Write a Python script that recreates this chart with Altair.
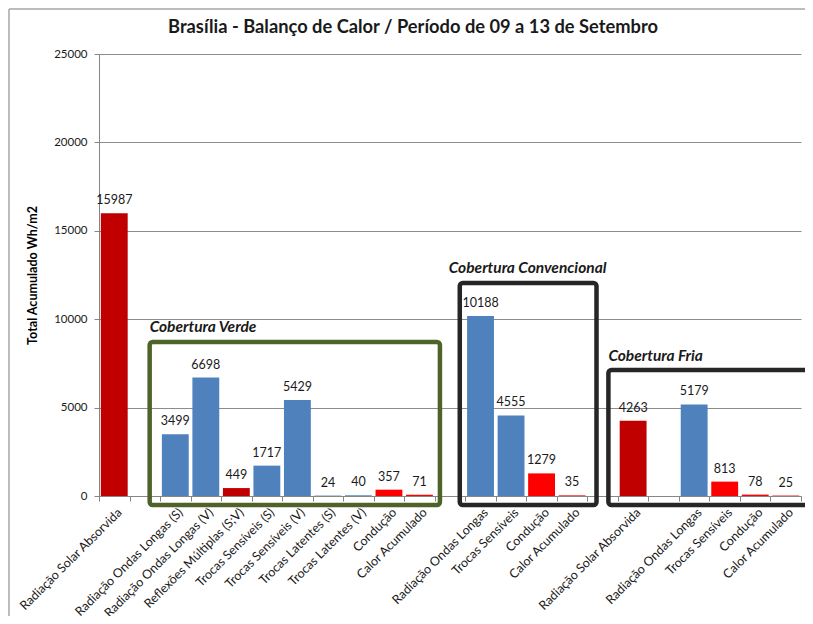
import altair as alt
import pandas as pd

# ---- data ----
slot_labels = ["Radiação Solar Absorvida", "", "Radiação Ondas Longas (S)", "Radiação Ondas Longas (V)",
               "Reflexões Múltiplas (S;V)", "Trocas Sensíveis (S)", "Trocas Sensíveis (V)",
               "Trocas Latentes (S)", "Trocas Latentes (V)", "Condução", "Calor Acumulado", "",
               "Radiação Ondas Longas", "Trocas Sensíveis", "Condução", "Calor Acumulado", "",
               "Radiação Solar Absorvida", "", "Radiação Ondas Longas", "Trocas Sensíveis",
               "Condução", "Calor Acumulado"]
values = [15987, None, 3499, 6698, 449, 1717, 5429, 24, 40, 357, 71, None,
          10188, 4555, 1279, 35, None, 4263, None, 5179, 813, 78, 25]
kinds = ["solar", None, "long", "long", "solar", "long", "long", "long", "long", "hot", "hot", None,
         "long", "long", "hot", "hot", None, "solar", None, "long", "hot", "hot", "hot"]
kind_colors = {"solar": "#C00000", "long": "#4F81BD", "hot": "#FF0000"}

box_names = ["Cobertura Verde", "Cobertura Convencional", "Cobertura Fria"]
box_x0 = [1.66, 11.82, 16.69]
box_x1 = [11.17, 16.30, 23.6]
box_top = [8710, 12050, 7130]
box_bottom = [-510, -510, -510]
box_colors = ["#4F6228", "#262626", "#262626"]
box_label_x = [1.66, 11.46, 16.69]
box_label_y = [9560, 12900, 7920]

title_text = ["Brasília - Balanço de Calor / Período de 09 a 13 de Setembro"]
y_title = "Total Acumulado Wh/m2"
y_ticks = [0, 5000, 10000, 15000, 20000, 25000]

# ---- tables ----
n = len(slot_labels)
slots = list(range(n))
bars_df = pd.DataFrame({
    "slot": [i for i in slots if values[i] is not None],
    "value": [values[i] for i in slots if values[i] is not None],
    "color": [kind_colors[kinds[i]] for i in slots if values[i] is not None],
})
boxes_df = pd.DataFrame({"name": box_names, "x0": box_x0, "x1": box_x1, "top": box_top,
                         "bottom": box_bottom, "col": box_colors,
                         "lx": box_label_x, "ly": box_label_y})
title_df = pd.DataFrame({"t": title_text})

label_array = "[" + ",".join("'" + s + "'" for s in slot_labels) + "]"

FONT = "Lato"
W, H = 702, 442

x_band = alt.Scale(domain=slots, paddingInner=0, paddingOuter=0)
y_scale = alt.Scale(domain=[0, 25000], nice=False)

bars = alt.Chart(bars_df).mark_bar(width=alt.RelativeBandSize(0.88)).encode(
    x=alt.X("slot:O", scale=x_band, title=None,
            axis=alt.Axis(labelExpr=label_array + "[datum.value]", labelAngle=-45,
                          labelAlign="right", labelBaseline="middle", labelFontSize=12.5,
                          labelColor="#1a1a1a", labelPadding=9, labelOffset=5,
                          tickBand="extent",
                          tickColor="#868686", tickSize=5, domainColor="#868686",
                          labelOverlap=False)),
    y=alt.Y("value:Q", scale=y_scale, title=y_title,
            axis=alt.Axis(values=y_ticks, format="d", labelFontSize=11.5,
                          labelColor="#1a1a1a", tickColor="#868686", tickSize=5,
                          domainColor="#868686", gridColor="#8c8c8c", gridWidth=1,
                          titleFontSize=12.5, titleFontWeight="bold", titleColor="#000000",
                          titlePadding=14, labelPadding=7)),
    color=alt.Color("color:N", scale=None),
)

value_text = alt.Chart(bars_df).mark_text(dy=-13, fontSize=12.5, color="#1a1a1a", font=FONT).encode(
    x=alt.X("slot:O", scale=x_band, axis=None),
    y=alt.Y("value:Q", scale=y_scale),
    text=alt.Text("value:Q", format="d"),
)

x_quant = alt.Scale(domain=[0, n], nice=False, zero=False)

boxes = alt.Chart(boxes_df).mark_rect(filled=False, strokeWidth=4.5, cornerRadius=3).encode(
    x=alt.X("x0:Q", scale=x_quant, axis=None),
    x2="x1:Q",
    y=alt.Y("top:Q", scale=y_scale),
    y2="bottom:Q",
    stroke=alt.Stroke("col:N", scale=None),
)

box_labels = alt.Chart(boxes_df).mark_text(align="left", baseline="middle", fontSize=15.5,
                                           fontWeight="bold", fontStyle="italic",
                                           color="#1a1a1a", font=FONT).encode(
    x=alt.X("lx:Q", scale=x_quant, axis=None),
    y=alt.Y("ly:Q", scale=y_scale),
    text="name:N",
)

# chart title drawn as a text mark (placed above the plot area)
title_mark = alt.Chart(title_df).mark_text(align="center", baseline="middle", fontSize=18.3,
                                           fontWeight="bold", color="#1a1a1a", font=FONT).encode(
    x=alt.value(314), y=alt.value(-26), text="t:N")

# decorative outer frame of the chart (top and left edges; right/bottom fall outside the page)
frame_top = alt.Chart(title_df).mark_rule(color="#a6a6a6", strokeWidth=1.5).encode(
    x=alt.value(-90), x2=alt.value(W + 20), y=alt.value(-45))
frame_left = alt.Chart(title_df).mark_rule(color="#a6a6a6", strokeWidth=1.5).encode(
    x=alt.value(-90), y=alt.value(-45), y2=alt.value(H + 140))

chart = alt.layer(frame_top, frame_left, title_mark, bars, value_text, boxes, box_labels).resolve_scale(
    x="independent"
).properties(
    width=W, height=H,
    padding={"left": 91, "top": 46, "right": 4, "bottom": 120},
    autosize=alt.AutoSizeParams(type="none"),
).configure(font=FONT).configure_view(stroke=None)

chart.save("out.html", embed_options={"renderer": "svg", "actions": False})
